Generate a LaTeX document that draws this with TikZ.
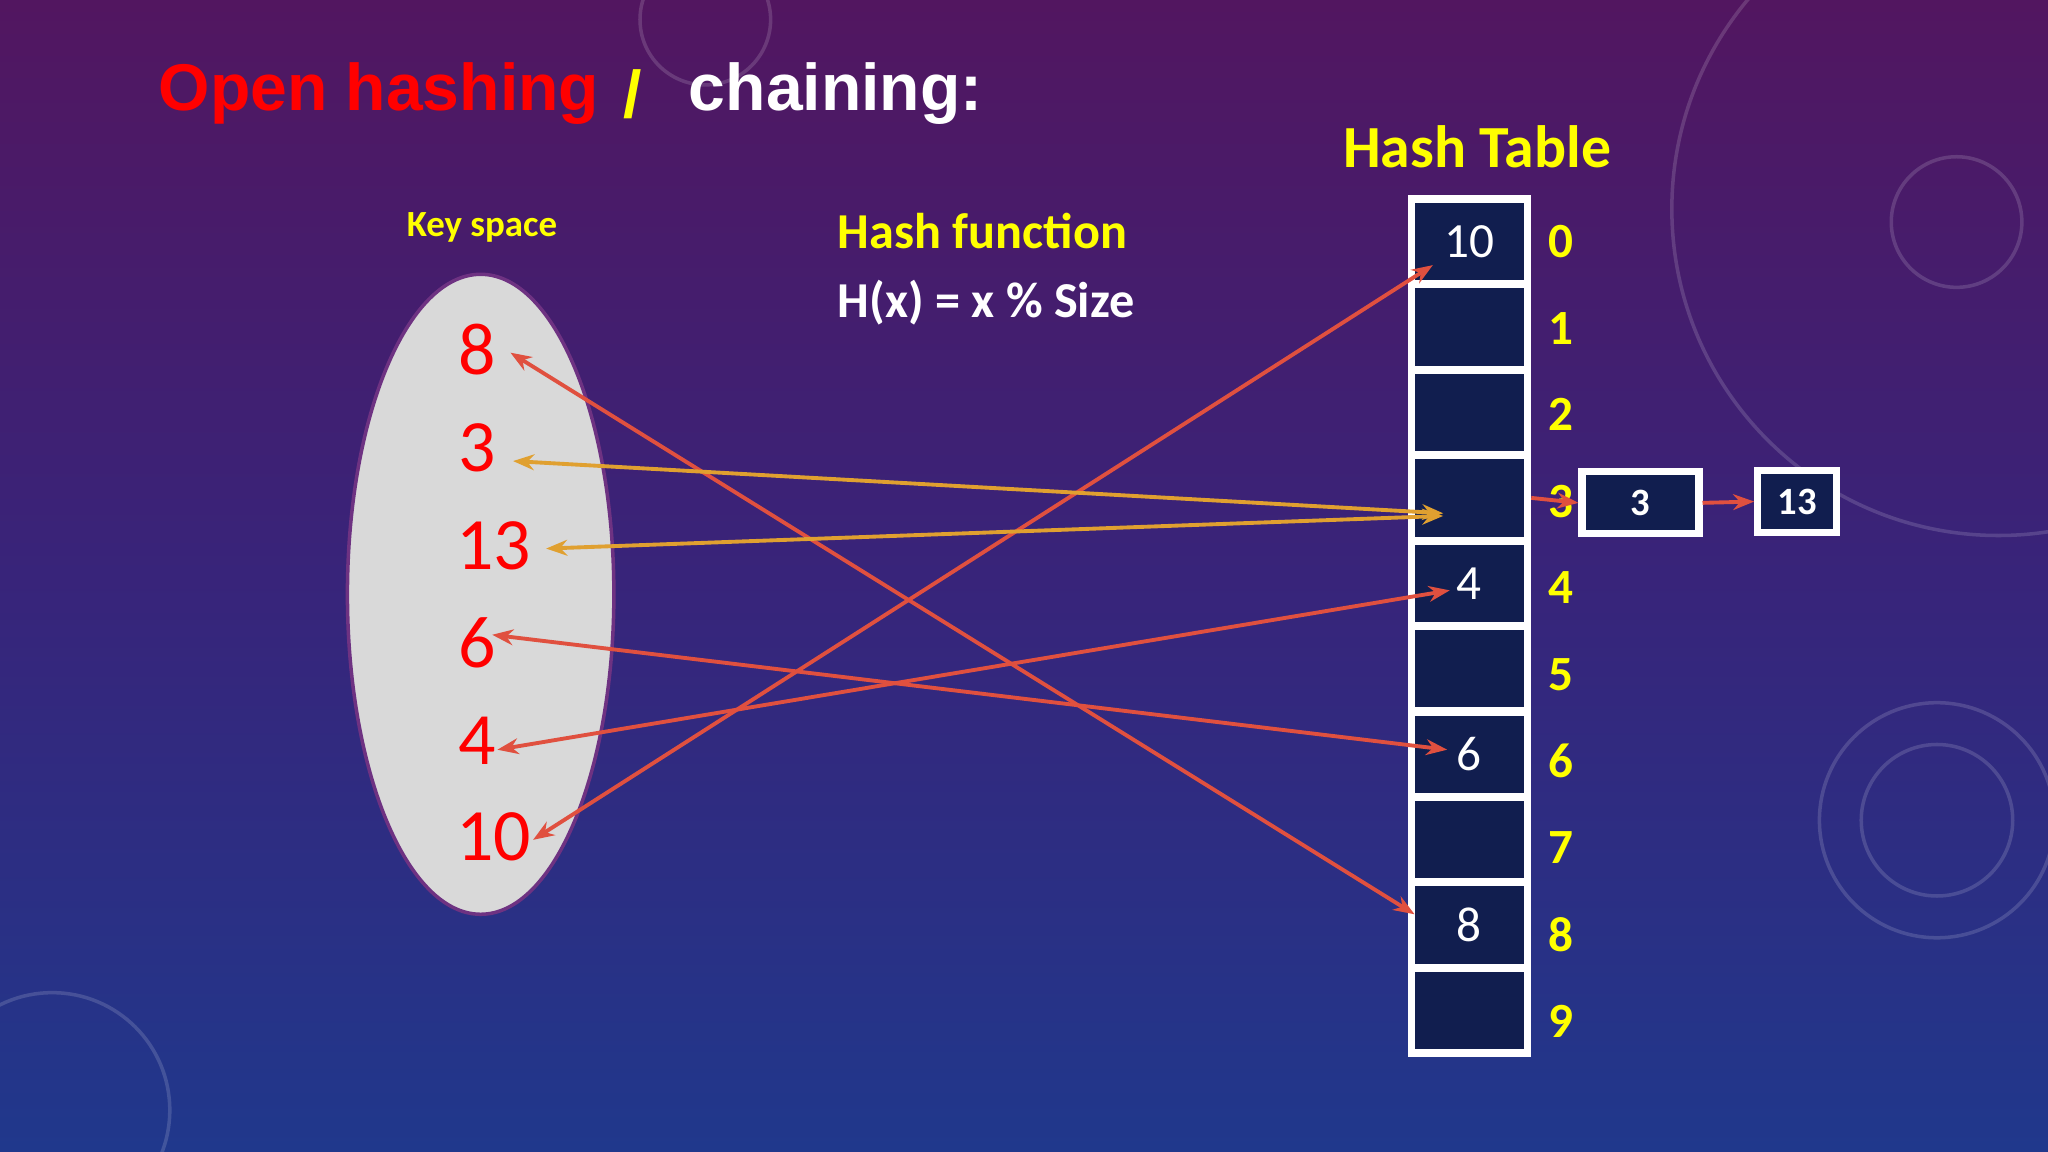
\documentclass[tikz,border=0pt]{standalone}
\usepackage{fontspec}
\setmainfont{Carlito}
\newfontfamily\arialf{Liberation Sans}
\usetikzlibrary{arrows.meta}
\definecolor{ky}{HTML}{FFFF00}
\definecolor{navy}{HTML}{111E4F}
\definecolor{ln}{HTML}{E0503F}
\definecolor{lo}{HTML}{E0A030}
\tikzset{
 cell/.style={draw=white,line width=2.2pt,fill=navy,minimum width=1.16cm,minimum height=0.85cm,inner sep=0,text=white,font=\fontsize{14}{16}\selectfont},
 idx/.style={text=ky,font=\bfseries\fontsize{14}{16}\selectfont},
 key/.style={text=red,font=\fontsize{21}{24}\selectfont},
 rl/.style={ln,line width=1.1pt,{Stealth[length=6pt]}-{Stealth[length=6pt]}},
 ol/.style={lo,line width=1.1pt,{Stealth[length=6pt]}-{Stealth[length=6pt]}},
 chain/.style={draw=white,line width=2pt,fill=navy,inner sep=0,text=white,font=\bfseries\fontsize{11}{13}\selectfont}
}
\begin{document}
\begin{tikzpicture}[x=0.01306cm,y=-0.01306cm]
\shade[top color={rgb,255:red,82;green,22;blue,96},bottom color={rgb,255:red,32;green,56;blue,140},middle color={rgb,255:red,56;green,36;blue,122}] (0,0) rectangle (1568,882);
\useasboundingbox (0,0) rectangle (1568,882);
\begin{scope}[white,opacity=0.15,line width=1pt]
\draw (1530,160) circle (250);
\draw (1498,170) circle (50);
\draw (1483,628) circle (58);
\draw (1483,628) circle (90);
\draw (40,850) circle (90);
\draw (540,15) circle (50);
\end{scope}
\node[anchor=west,text=red,font=\arialf\bfseries\fontsize{18.8}{22}\selectfont] (t1) at (112,72) {Open hashing};
\node[anchor=west,text=ky,font=\arialf\bfseries\fontsize{18.8}{22}\selectfont] (t2) at (468,72) {/};
\node[anchor=west,text=white,font=\arialf\bfseries\fontsize{18.8}{22}\selectfont] (t3) at (518,72) {chaining:};
\node[text=ky,font=\bfseries\fontsize{17}{20}\selectfont] (ht) at (1131,112) {Hash Table};
\node[text=ky,font=\bfseries\fontsize{10.5}{12}\selectfont] (ks) at (369,174) {Key space};
\node[anchor=west,text=ky,font=\bfseries\fontsize{14.3}{16}\selectfont] (hf) at (632,177) {Hash function};
\node[anchor=west,text=white,font=\bfseries\fontsize{14.3}{16}\selectfont] (hx) at (632,232) {H(x) = x \% Size};
\draw[fill={rgb,255:red,217;green,217;blue,217},draw={rgb,255:red,110;green,50;blue,130},line width=1pt] (368,455) ellipse (102 and 245);
\node[key] (k8) at (365,268) {8};
\node[key] (k3) at (365,343) {3};
\node[key] (k13) at (378,418) {13};
\node[key] (k6) at (365,492) {6};
\node[key] (k4) at (365,567) {4};
\node[key] (k10) at (378,641) {10};
\foreach \i/\v in {0/10,1/,2/,3/,4/4,5/,6/6,7/,8/8,9/} {
 \node[cell] (c\i) at (1125,{185+65.4*\i}) {\v};
 \node[idx] (i\i) at (1195,{185+66.3*\i}) {\i};
}
\node[chain,minimum width=1.17cm,minimum height=0.62cm] (b3) at (1256,385) {3};
\node[chain,minimum width=0.79cm,minimum height=0.62cm] (b13) at (1376,384) {13};
\draw[ln,line width=1.1pt,-{Stealth[length=6pt]}] (c3.east) -- (b3.west);
\draw[ln,line width=1.1pt,-{Stealth[length=6pt]}] (b3.east) -- (b13.west);
\coordinate (e0) at (1097,203);
\coordinate (e8) at (1083,700);
\coordinate (e6) at (1108,574);
\coordinate (e4) at (1110,452);
\coordinate (e3) at (1105,393);
\coordinate (e13) at (1105,395);
\draw[rl] (k10.east) ++(-8,2) coordinate (s10) -- (e0);
\draw[rl] (k8.east) ++(2,2) coordinate (s8) -- (e8);
\draw[rl] (k6.east) ++(-12,-6) coordinate (s6) -- (e6);
\draw[rl] (k4.east) ++(-8,7) coordinate (s4) -- (e4);
\draw[ol] (k3.east) ++(4,10) coordinate (s3) -- (e3);
\draw[ol] (k13.east) ++(2,2) coordinate (s13) -- (e13);
\end{tikzpicture}
\end{document}
